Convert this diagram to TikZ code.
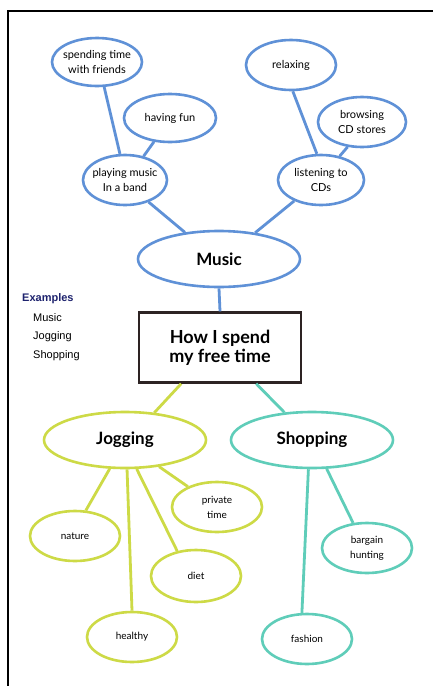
\documentclass[tikz,border=0pt]{standalone}
\usepackage{fontspec}
\setmainfont{Lato}
\newfontfamily\arialfont{Liberation Sans}
\usetikzlibrary{shapes.geometric}
\definecolor{mblue}{RGB}{95,145,215}
\definecolor{jyel}{RGB}{205,218,70}
\definecolor{steal}{RGB}{95,205,185}
\definecolor{navy}{RGB}{30,35,110}
\definecolor{boxline}{RGB}{45,35,35}
\begin{document}
\begin{tikzpicture}[x=1pt,y=-1pt,
  ell/.style={ellipse, draw, fill=white, line width=2.6pt, inner sep=0pt, minimum width=90pt, minimum height=50pt},
  bigell/.style={ell, minimum width=162pt, minimum height=56pt},
  conn/.style={line width=2.8pt},
  lbl/.style={align=center, inner sep=0pt, font=\fontsize{11}{15}\selectfont},
  slbl/.style={align=center, inner sep=0pt, font=\fontsize{10}{15}\selectfont},
  blbl/.style={inner sep=0pt, font=\fontsize{17}{20}\selectfont\bfseries},
  exlbl/.style={anchor=west, inner sep=0pt, font=\arialfont\fontsize{11}{13}\selectfont}
]
\useasboundingbox (0,0) rectangle (432,686);
\fill[white] (0,0) rectangle (432,686);
% frame
\draw[line width=2pt] (8,686) -- (8,11) -- (433,11);

% nodes: music branch
\node[ell, draw=mblue, minimum width=90pt, minimum height=48pt] (spend) at (97,62) {};
\node[ell, draw=mblue, minimum width=92pt, minimum height=48pt] (fun) at (170,118) {};
\node[ell, draw=mblue, minimum width=84pt, minimum height=50pt] (play) at (125,180) {};
\node[ell, draw=mblue, minimum width=90pt, minimum height=50pt] (relax) at (291,65) {};
\node[ell, draw=mblue, minimum width=88pt, minimum height=50pt] (browse) at (362,122) {};
\node[ell, draw=mblue, minimum width=86pt, minimum height=50pt] (listen) at (321,180) {};
\node[bigell, draw=mblue] (music) at (219,259) {};

% central box
\node[draw=boxline, line width=2.4pt, minimum width=162pt, minimum height=70pt, inner sep=0pt] (box) at (220,347.5) {};

% jogging / shopping
\node[bigell, draw=jyel] (jog) at (125,440) {};
\node[bigell, draw=steal] (shop) at (312,440) {};
\node[ell, draw=jyel] (priv) at (217,507) {};
\node[ell, draw=jyel] (nature) at (75,536) {};
\node[ell, draw=jyel, minimum height=52pt] (diet) at (196,576) {};
\node[ell, draw=jyel] (healthy) at (132,637) {};
\node[ell, draw=steal] (bargain) at (367,548) {};
\node[ell, draw=steal] (fashion) at (307,639) {};

% connectors
\draw[conn, mblue] (spend.-74) -- (play.101);
\draw[conn, mblue] (fun.-124) -- (play.52);
\draw[conn, mblue] (play.-43) -- (music.142);
\draw[conn, mblue] (relax.-86) -- (listen.99);
\draw[conn, mblue] (browse.-120) -- (listen.52);
\draw[conn, mblue] (listen.-142) -- (music.36);
\draw[conn, mblue] (music.south) -- (box.north);
\draw[conn, jyel] (box.-137) -- (jog.43);
\draw[conn, steal] (box.-45) -- (shop.135);
\draw[conn, jyel] (jog.-118) -- (nature.67);
\draw[conn, jyel] (jog.-86) -- (healthy.90);
\draw[conn, jyel] (jog.-68) -- (diet.127);
\draw[conn, jyel] (jog.-38) -- (priv.145);
\draw[conn, steal] (shop.-97) -- (fashion.101);
\draw[conn, steal] (shop.-63) -- (bargain.119);

% labels
\node[lbl] (spend-t) at (spend) {spending time\\with friends};
\node[lbl] (fun-t) at (fun) {having fun};
\node[lbl] (play-t) at (play) {playing music\\In a band};
\node[lbl] (relax-t) at (relax) {relaxing};
\node[lbl] (browse-t) at (browse) {browsing\\CD stores};
\node[lbl] (listen-t) at (listen) {listening to\\CDs};
\node[blbl] (music-t) at (music) {Music};
\node[align=center, inner sep=0pt, font=\fontsize{18}{19}\selectfont\bfseries] (box-t) at (box) {How I spend\\my free time};
\node[blbl] (jog-t) at (jog) {Jogging};
\node[blbl] (shop-t) at (shop) {Shopping};
\node[slbl] (priv-t) at (priv) {private\\time};
\node[slbl] (nature-t) at (nature) {nature};
\node[slbl] (diet-t) at (diet) {diet};
\node[slbl] (healthy-t) at (healthy) {healthy};
\node[slbl] (bargain-t) at (bargain) {bargain\\hunting};
\node[slbl] (fashion-t) at (fashion) {fashion};

% examples
\node[exlbl, text=navy, font=\arialfont\fontsize{11}{13}\selectfont\bfseries] (ex) at (22,299) {Examples};
\node[exlbl] (ex1) at (33,318) {Music};
\node[exlbl] (ex2) at (33,337) {Jogging};
\node[exlbl] (ex3) at (33,356) {Shopping};
\end{tikzpicture}
\end{document}
